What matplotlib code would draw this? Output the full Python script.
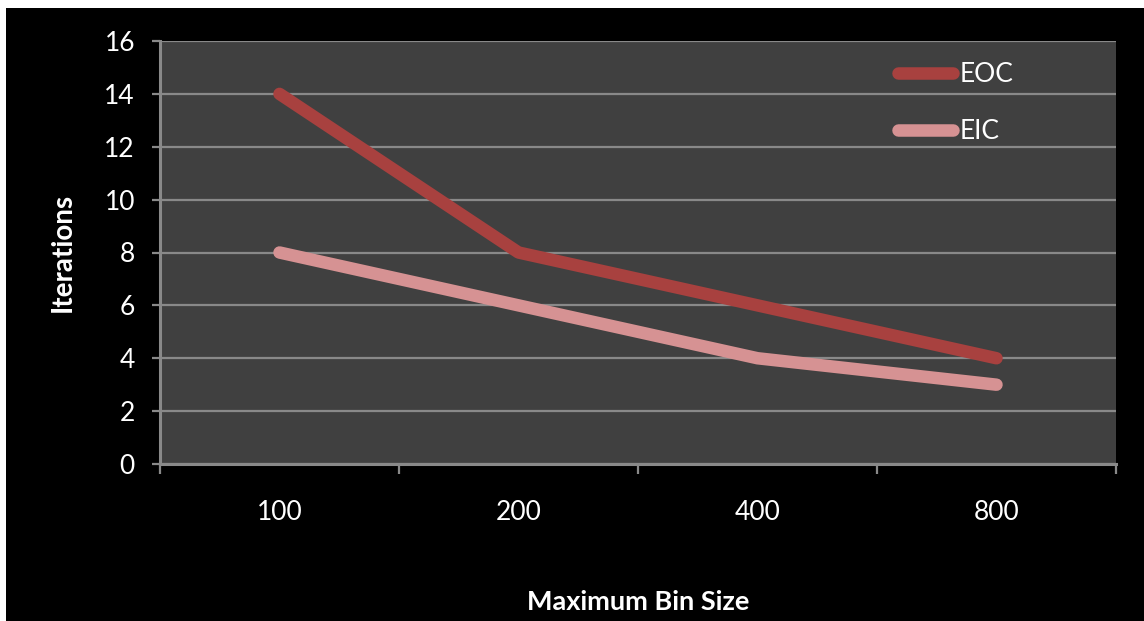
import matplotlib
matplotlib.use("Agg")
import matplotlib.pyplot as plt
from matplotlib.patches import Rectangle
from matplotlib.ticker import FixedLocator, NullFormatter

# Data
bin_sizes = ["100", "200", "400", "800"]
eoc_iterations = [14, 8, 6, 4]
eic_iterations = [8, 6, 4, 3]
y_ticks = [0, 2, 4, 6, 8, 10, 12, 14, 16]

plt.rcParams["font.family"] = ["Lato", "DejaVu Sans"]

W, H = 1144, 621
fig = plt.figure(figsize=(W / 100, H / 100), dpi=100, facecolor="white")

# black panel behind the chart (thin white strip on top and left)
fig.patches.append(Rectangle((6 / W, 0), 1 - 6 / W, 1 - 8 / H,
                             transform=fig.transFigure, facecolor="black",
                             edgecolor="none", zorder=-10))

ax = fig.add_axes([160 / W, 1 - 464 / H, (1116 - 160) / W, (464 - 41) / H])
ax.set_facecolor("#404040")

x = list(range(len(bin_sizes)))
ax.plot(x, eoc_iterations, color="#A8413F", lw=9, solid_capstyle="round",
        solid_joinstyle="round", label="EOC", zorder=3)
ax.plot(x, eic_iterations, color="#D69293", lw=9, solid_capstyle="round",
        solid_joinstyle="round", label="EIC", zorder=3)

ax.set_xlim(-0.5, len(bin_sizes) - 0.5)
ax.set_ylim(0, 16)

# y axis
ax.set_yticks(y_ticks)
ax.yaxis.grid(True, color="#898989", lw=1.6)
ax.set_axisbelow(True)
ax.tick_params(axis="y", colors="#898989", labelcolor="white", labelsize=19,
               length=6, width=1.6, pad=12)

# x axis: ticks on category boundaries, labels at category centres
ax.xaxis.set_major_locator(FixedLocator([i - 0.5 for i in range(len(bin_sizes) + 1)]))
ax.xaxis.set_major_formatter(NullFormatter())
ax.xaxis.set_minor_locator(FixedLocator(x))
ax.set_xticklabels(bin_sizes, minor=True)
ax.tick_params(axis="x", which="major", colors="#898989", length=7, width=1.6)
ax.tick_params(axis="x", which="minor", length=0, labelcolor="white",
               labelsize=19, pad=26)

for side in ("top", "right"):
    ax.spines[side].set_visible(False)
for side in ("left", "bottom"):
    ax.spines[side].set_color("#898989")
    ax.spines[side].set_linewidth(2.2)

fig.text(638 / W, 1 - 602 / H, "Maximum Bin Size", color="white",
         fontsize=19.5, fontweight="bold", ha="center", va="center")
fig.text(63 / W, 1 - 252 / H, "Iterations", color="white", fontsize=20,
         fontweight="bold", ha="center", va="center", rotation=90)

leg = ax.legend(loc="upper left", bbox_to_anchor=(898 / W, 1 - 62 / H),
                bbox_transform=fig.transFigure, frameon=False, fontsize=19,
                handlelength=2.08, handletextpad=0.25, labelspacing=1.23,
                borderpad=0, borderaxespad=0, labelcolor="white")

fig.savefig("out.png", dpi=100, facecolor=fig.get_facecolor())
